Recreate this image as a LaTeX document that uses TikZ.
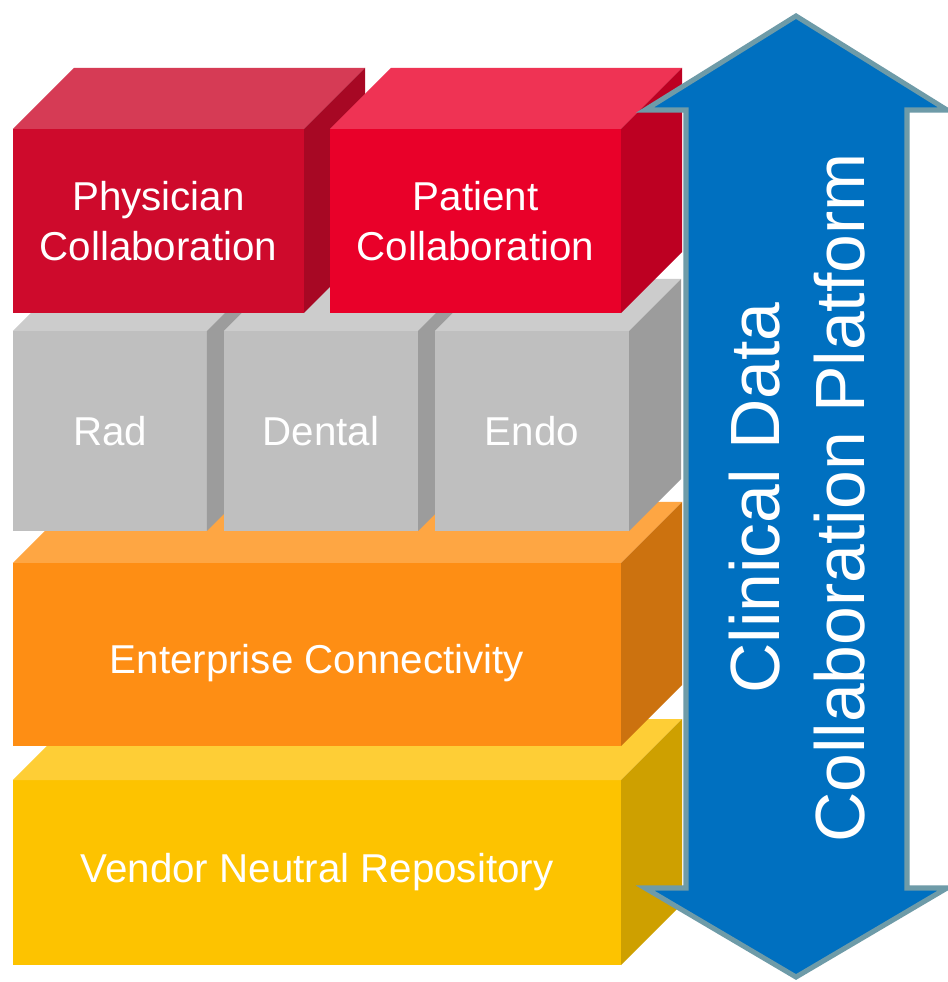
\documentclass[tikz,border=0pt]{standalone}
\usepackage{fontspec}
\setmainfont{Liberation Sans}
\usepackage{tikz}
\usetikzlibrary{positioning}
\definecolor{physfront}{HTML}{CE0A2C}
\definecolor{phystop}{HTML}{D63B55}
\definecolor{physside}{HTML}{A70824}
\definecolor{patfront}{HTML}{E90029}
\definecolor{pattop}{HTML}{EF3354}
\definecolor{patside}{HTML}{BD0022}
\definecolor{grayfront}{HTML}{BFBFBF}
\definecolor{graytop}{HTML}{CCCCCC}
\definecolor{grayside}{HTML}{9C9C9C}
\definecolor{orangefront}{HTML}{FE8E14}
\definecolor{orangetop}{HTML}{FEA643}
\definecolor{orangeside}{HTML}{CC720F}
\definecolor{yellowfront}{HTML}{FDC300}
\definecolor{yellowtop}{HTML}{FECE36}
\definecolor{yellowside}{HTML}{CEA000}
\definecolor{arrowblue}{HTML}{0070C0}
\definecolor{arrowedge}{HTML}{6E9BA8}
\tikzset{%
	face/.style     = {rectangle, inner sep=0pt, outer sep=0pt, text=white, align=center, font=\fontsize{34.4}{42.5}\selectfont},
	redface/.style  = {face, minimum width=8.73cm, minimum height=5.52cm},
	grayface/.style = {face, fill=grayfront, minimum width=5.82cm, minimum height=6cm},
	layer/.style    = {face, minimum width=18.24cm},
	bigarrow/.style = {fill=arrowblue, draw=arrowedge, line width=4.3pt},
	armtext/.style  = {rotate=90, text=white, align=center, font=\fontsize{59.5}{72.3}\selectfont},
}
% top and side faces of a block: node, depth, top colour, side colour
\newcommand{\cubesides}[4]{%
	\fill[#3] (#1.north west) -- ++(#2,-#2) -- ([shift={(#2,-#2)}]#1.north east) -- (#1.north east) -- cycle;
	\fill[#4] (#1.north east) -- ++(#2,-#2) -- ([shift={(#2,-#2)}]#1.south east) -- (#1.south east) -- cycle;
}
\begin{document}
\begin{tikzpicture}[x=0.03cm,y=-0.03cm]
	\path[use as bounding box, fill=white] (0,0) rectangle (947,982);
	
	% bottom layers
	\node [layer, fill=yellowfront, minimum height=5.55cm] (vnr) at (317,872.5) {Vendor Neutral Repository};
	\cubesides{vnr}{61}{yellowtop}{yellowside}
	\node [layer, fill=orangefront, minimum height=5.49cm, text height=32pt, text depth=0pt] (ec) [above=1.02cm of vnr] {Enterprise Connectivity};
	\cubesides{ec}{61}{orangetop}{orangeside}
	
	% specialty blocks
	\node [grayface] (rad) [above right=0.96cm and 0cm of ec.north west] {Rad};
	\cubesides{rad}{52}{graytop}{grayside}
	\node [grayface] (dental) [right=0.51cm of rad] {Dental};
	\cubesides{dental}{52}{graytop}{grayside}
	\node [grayface] (endo) [right=0.51cm of dental] {Endo};
	\cubesides{endo}{52}{graytop}{grayside}
	
	% collaboration blocks
	\node [redface, fill=physfront] (phys) [above right=0.54cm and 0cm of rad.north west] {Physician\\Collaboration};
	\cubesides{phys}{61}{phystop}{physside}
	\node [redface, fill=patfront] (pat) [right=0.78cm of phys] {Patient\\Collaboration};
	\cubesides{pat}{61}{pattop}{patside}
	
	% platform arrow
	\draw[bigarrow] (796,16) -- (947,110) -- (907,110) -- (907,888) -- (947,888) -- (796,977)
		-- (645,888) -- (686,888) -- (686,110) -- (645,110) -- cycle;
	\node [armtext] (cdcp) at (797,498) {Clinical Data\\Collaboration Platform};
\end{tikzpicture}
\end{document}
